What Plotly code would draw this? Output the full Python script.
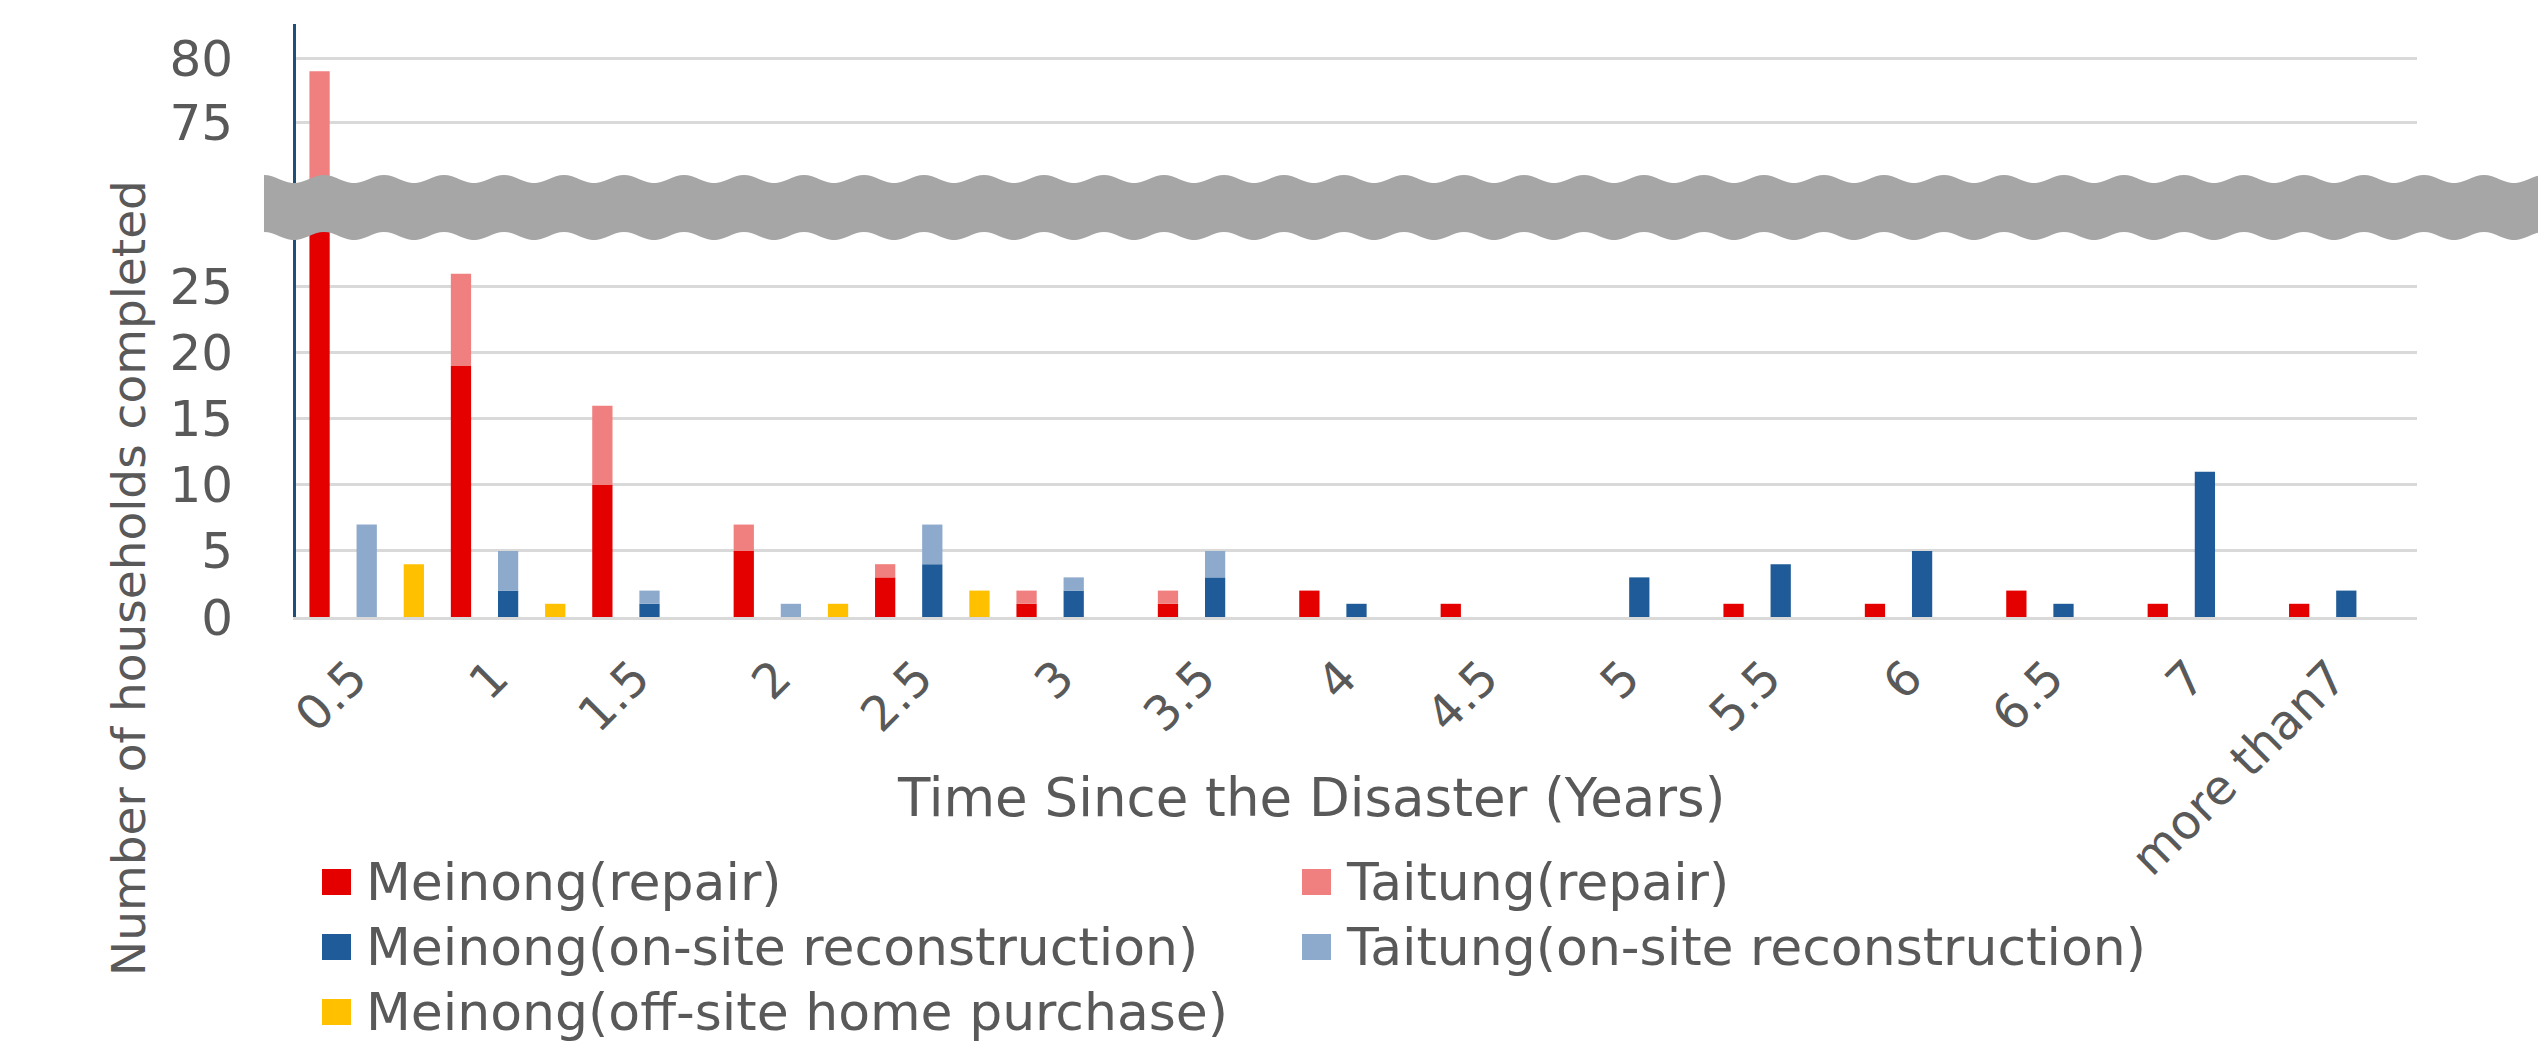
import numpy as np
import plotly.graph_objects as go

# ---------------- data ----------------
categories = ["0.5", "1", "1.5", "2", "2.5", "3", "3.5", "4", "4.5",
              "5", "5.5", "6", "6.5", "7", "more than7"]
meinong_repair = [50, 19, 10, 5, 3, 1, 1, 2, 1, 0, 1, 1, 2, 1, 1]
taitung_repair = [29, 7, 6, 2, 1, 1, 1, 0, 0, 0, 0, 0, 0, 0, 0]
meinong_onsite = [0, 2, 1, 0, 4, 2, 3, 1, 0, 3, 4, 5, 1, 11, 2]
taitung_onsite = [7, 3, 1, 1, 3, 1, 2, 0, 0, 0, 0, 0, 0, 0, 0]
meinong_offsite = [4, 1, 0, 1, 2, 0, 0, 0, 0, 0, 0, 0, 0, 0, 0]

low_ticks = [0, 5, 10, 15, 20, 25]
high_ticks = [75, 80]

names = ["Meinong(repair)", "Taitung(repair)",
         "Meinong(on-site reconstruction)", "Taitung(on-site reconstruction)",
         "Meinong(off-site home purchase)"]
colors = ["#E50000", "#F07F7F", "#1F5B98", "#8DA9CC", "#FFC000"]

# ---------------- geometry ----------------
W, H = 2538, 1045
L, R, T, B = 296, 121, 24, 428
PW, PH = W - L - R, H - T - B


def px(x):
    return (x - L) / PW


def py(y):
    return (H - B - y) / PH


split = py(205)
low_range = [0, 31.2]
high_range = [68.5, 82.7]

FONT = "DejaVu Sans"
GREY = "#595959"
GRID = "#D9D9D9"

series = [
    (names[0], meinong_repair, None, colors[0], "repair"),
    (names[1], taitung_repair, meinong_repair, colors[1], "repair"),
    (names[2], meinong_onsite, None, colors[2], "onsite"),
    (names[3], taitung_onsite, meinong_onsite, colors[3], "onsite"),
    (names[4], meinong_offsite, None, colors[4], "offsite"),
]

fig = go.Figure()
for axis in ["y", "y2"]:
    for name, vals, base, col, grp in series:
        fig.add_trace(go.Bar(
            x=categories, y=vals, base=base, name=name,
            offsetgroup=grp, marker=dict(color=col, line=dict(width=0)),
            yaxis=axis, showlegend=False))

fig.update_layout(
    width=W, height=H,
    margin=dict(l=L, r=R, t=T, b=B, autoexpand=False),
    paper_bgcolor="white", plot_bgcolor="white",
    barmode="group", bargap=0.0, bargroupgap=0.57,
    font=dict(family=FONT, color=GREY, size=50),
    xaxis=dict(type="category", categoryorder="array", categoryarray=categories,
               tickangle=-45, showgrid=False, showline=True, linecolor=GRID,
               linewidth=3, ticks="", ticklabelstandoff=10, ticklabelshift=-14,
               tickfont=dict(family=FONT, size=48, color=GREY), anchor="y"),
    yaxis=dict(domain=[0, split], range=low_range, tickvals=low_ticks,
               showgrid=True, gridcolor=GRID, gridwidth=3,
               showline=True, linecolor="#1F4E79", linewidth=3,
               zeroline=False, ticks="", ticklabelstandoff=50,
               tickfont=dict(family=FONT, size=50, color=GREY)),
    yaxis2=dict(domain=[split, 1], range=high_range, tickvals=high_ticks,
                showgrid=True, gridcolor=GRID, gridwidth=3,
                showline=True, linecolor="#1F4E79", linewidth=3,
                zeroline=False, ticks="", ticklabelstandoff=50, anchor="x",
                tickfont=dict(family=FONT, size=50, color=GREY)),
)

# ---------------- broken-axis band ----------------
xs = np.arange(264, 2580, 4.0)
phase = np.cos(2 * np.pi * (xs - 264) / 60.0)
top = 179 - 4 * phase
bot = 236 - 4 * phase
pts = [(px(x), py(y)) for x, y in zip(xs, top)] + \
      [(px(x), py(y)) for x, y in zip(xs[::-1], bot[::-1])]
path = "M " + " L ".join(f"{a:.5f},{b:.5f}" for a, b in pts) + " Z"
fig.add_shape(type="path", path=path, xref="paper", yref="paper",
              fillcolor="#A6A6A6", line=dict(width=0), layer="above")

# ---------------- titles ----------------
fig.add_annotation(text="Time Since the Disaster (Years)", xref="paper", yref="paper",
                   x=px(1311), y=py(797), xanchor="center", yanchor="middle",
                   showarrow=False, font=dict(family=FONT, size=53, color=GREY))
fig.add_annotation(text="Number of households completed", xref="paper", yref="paper",
                   x=px(128), y=py(578), xanchor="center", yanchor="middle",
                   textangle=-90, showarrow=False,
                   font=dict(family=FONT, size=47, color=GREY))

# ---------------- legend (manual) ----------------
legend_pos = [(322, 882), (1302, 882), (322, 947), (1302, 947), (322, 1012)]
for (name, col), (lx, ly) in zip(zip(names, colors), legend_pos):
    fig.add_shape(type="rect", xref="paper", yref="paper",
                  x0=px(lx), x1=px(lx + 29), y0=py(ly + 13), y1=py(ly - 13),
                  fillcolor=col, line=dict(width=0))
    fig.add_annotation(text=name, xref="paper", yref="paper",
                       x=px(lx + 42), y=py(ly), xanchor="left", yanchor="middle",
                       showarrow=False, font=dict(family=FONT, size=52, color=GREY))

fig.write_html("out.html",
               config={"displayModeBar": False},
               post_script="document.body.style.margin='0';document.body.style.overflow='hidden';")
